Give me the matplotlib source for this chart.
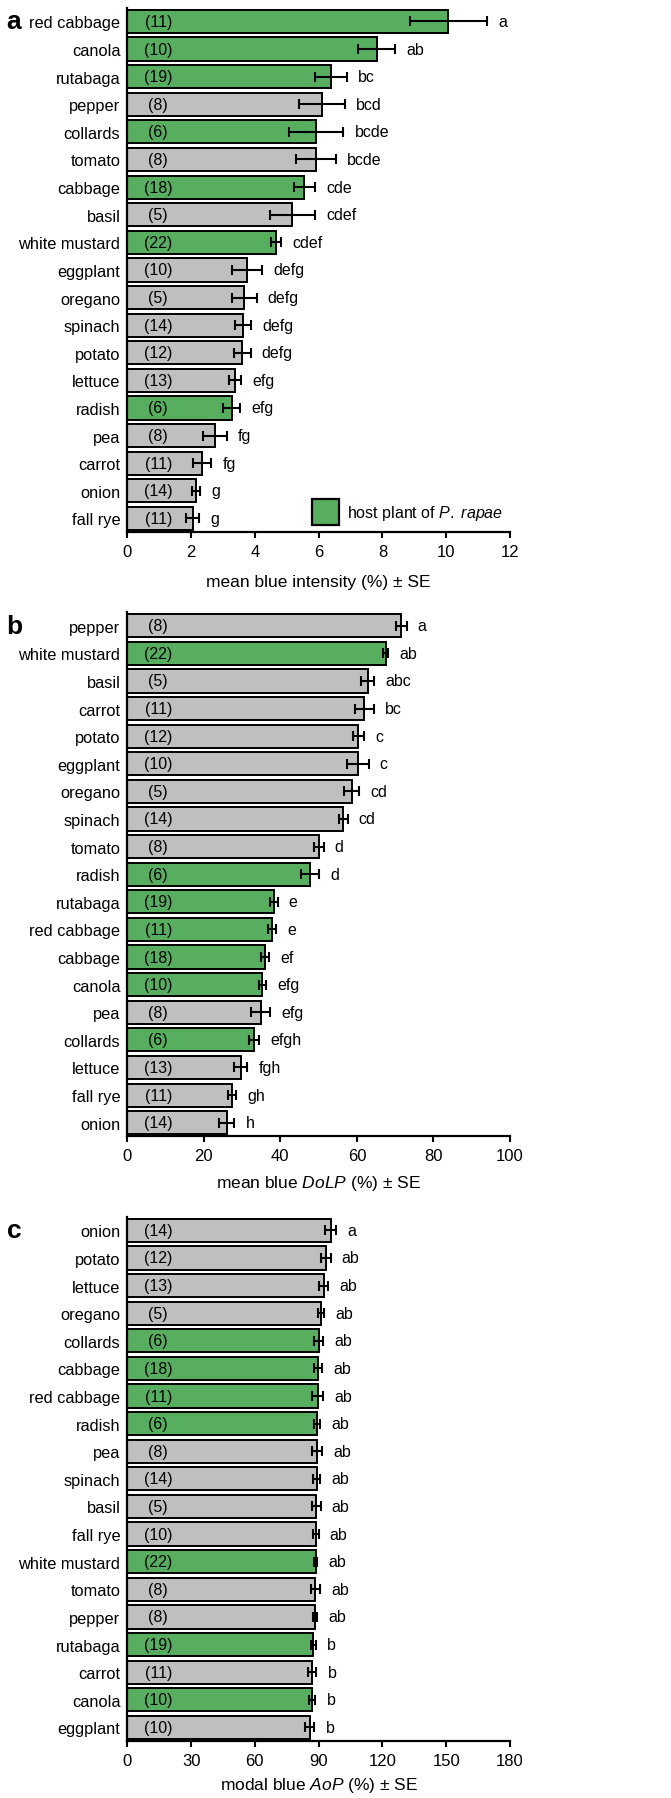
import matplotlib
matplotlib.use("Agg")
import matplotlib.pyplot as plt
from matplotlib.patches import Patch
import matplotlib.transforms as mtransforms

plt.rcParams['font.family'] = ['Liberation Sans', 'DejaVu Sans']
plt.rcParams['mathtext.fontset'] = 'custom'
plt.rcParams['mathtext.rm'] = 'Liberation Sans'
plt.rcParams['mathtext.it'] = 'Liberation Sans:italic'

GREEN = '#58ae5f'
GREY = '#bfbfbf'

hosts = ['red cabbage', 'canola', 'rutabaga', 'collards', 'cabbage', 'white mustard', 'radish']

# panel a - mean blue intensity
plants_a = ['red cabbage', 'canola', 'rutabaga', 'pepper', 'collards', 'tomato', 'cabbage',
            'basil', 'white mustard', 'eggplant', 'oregano', 'spinach', 'potato', 'lettuce',
            'radish', 'pea', 'carrot', 'onion', 'fall rye']
mean_a = [10.07, 7.82, 6.39, 6.11, 5.93, 5.92, 5.55, 5.18, 4.67, 3.76, 3.67, 3.64, 3.61,
          3.38, 3.27, 2.75, 2.35, 2.16, 2.05]
se_a = [1.22, 0.57, 0.49, 0.71, 0.85, 0.63, 0.33, 0.72, 0.15, 0.47, 0.39, 0.25, 0.26,
        0.19, 0.28, 0.37, 0.29, 0.13, 0.21]
n_a = [11, 10, 19, 8, 6, 8, 18, 5, 22, 10, 5, 14, 12, 13, 6, 8, 11, 14, 11]
grp_a = ['a', 'ab', 'bc', 'bcd', 'bcde', 'bcde', 'cde', 'cdef', 'cdef', 'defg', 'defg',
         'defg', 'defg', 'efg', 'efg', 'fg', 'fg', 'g', 'g']

# panel b - mean blue DoLP
plants_b = ['pepper', 'white mustard', 'basil', 'carrot', 'potato', 'eggplant', 'oregano',
            'spinach', 'tomato', 'radish', 'rutabaga', 'red cabbage', 'cabbage', 'canola',
            'pea', 'collards', 'lettuce', 'fall rye', 'onion']
mean_b = [71.6, 67.5, 62.8, 61.9, 60.4, 60.2, 58.6, 56.4, 50.1, 47.7, 38.3, 37.8, 36.0,
          35.3, 34.9, 33.1, 29.7, 27.4, 26.0]
se_b = [1.4, 0.6, 1.7, 2.5, 1.4, 2.9, 2.0, 1.2, 1.2, 2.4, 1.0, 1.1, 1.0, 1.0, 2.5, 1.4,
        1.7, 1.1, 2.0]
n_b = [8, 22, 5, 11, 12, 10, 5, 14, 8, 6, 19, 11, 18, 10, 8, 6, 13, 11, 14]
grp_b = ['a', 'ab', 'abc', 'bc', 'c', 'c', 'cd', 'cd', 'd', 'd', 'e', 'e', 'ef', 'efg',
         'efg', 'efgh', 'fgh', 'gh', 'h']

# panel c - modal blue AoP
plants_c = ['onion', 'potato', 'lettuce', 'oregano', 'collards', 'cabbage', 'red cabbage',
            'radish', 'pea', 'spinach', 'basil', 'fall rye', 'white mustard', 'tomato',
            'pepper', 'rutabaga', 'carrot', 'canola', 'eggplant']
mean_c = [95.6, 93.4, 92.3, 91.3, 90.0, 89.8, 89.5, 89.4, 89.2, 89.1, 88.9, 88.6, 88.6,
          88.4, 88.3, 87.5, 87.0, 86.9, 85.8]
se_c = [2.5, 2.2, 2.0, 1.4, 2.2, 1.9, 2.5, 1.4, 2.5, 1.7, 2.0, 1.4, 0.6, 2.2, 1.1, 1.1,
        2.0, 1.6, 2.2]
n_c = [14, 12, 13, 5, 6, 18, 11, 6, 8, 14, 5, 10, 22, 8, 8, 19, 11, 10, 10]
grp_c = ['a'] + ['ab'] * 14 + ['b'] * 4


def panel(fig, rect, letter, plants, means, ses, ns, groups, xmax, xstep, xlabel, lpad):
	ax = fig.add_axes(rect)
	y = list(range(len(plants)))
	colors = [GREEN if p in hosts else GREY for p in plants]
	ax.barh(y, means, height=0.84, color=colors, edgecolor='black', linewidth=1.4, zorder=2)
	ax.errorbar(means, y, xerr=ses, fmt='none', ecolor='black', elinewidth=1.5,
				capsize=3.5, capthick=1.5, zorder=3)
	trans = mtransforms.blended_transform_factory(ax.transAxes, ax.transData)
	for i in y:
		ax.text(0.081, i, '(%d)' % ns[i], transform=trans, ha='center', va='center',
				fontsize=11.5, zorder=4)
		ax.annotate(groups[i], (means[i] + ses[i], i), xytext=(8, 0),
					textcoords='offset points', ha='left', va='center', fontsize=11.5)
	ax.set_yticks(y)
	ax.set_yticklabels(plants, fontsize=11.8)
	ax.set_ylim(18.48, -0.5)
	ax.set_xlim(0, xmax)
	ax.set_xticks(range(0, xmax + 1, xstep))
	ax.tick_params(axis='y', length=0, pad=5)
	ax.tick_params(axis='x', length=4, width=1.5, labelsize=12, direction='out', pad=5)
	for s in ['top', 'right']:
		ax.spines[s].set_visible(False)
	for s in ['left', 'bottom']:
		ax.spines[s].set_linewidth(1.6)
	ax.set_xlabel(xlabel, fontsize=12.5, labelpad=lpad)
	fig.text(0.010, rect[1] + rect[3] - 0.001, letter, fontsize=19, fontweight='bold',
			 va='top', ha='left')
	return ax


def main():
	fig = plt.figure(figsize=(6.71, 17.99), dpi=100)
	left = 0.1897
	width = 0.5703
	height = 0.2913
	ax_a = panel(fig, [left, 0.7039, width, height], 'a', plants_a, mean_a, se_a, n_a, grp_a,
				 12, 2, 'mean blue intensity (%) ± SE', 11)
	panel(fig, [left, 0.3680, width, height], 'b', plants_b, mean_b, se_b, n_b, grp_b,
		  100, 20, r'mean blue $\it{DoLP}$ (%) ± SE', 7)
	panel(fig, [left, 0.0319, width, height], 'c', plants_c, mean_c, se_c, n_c, grp_c,
		  180, 30, r'modal blue $\it{AoP}$ (%) ± SE', 5)

	handle = Patch(facecolor=GREEN, edgecolor='black', linewidth=1.6)
	ax_a.legend([handle], [r'host plant of $\it{P.\ rapae}$'], loc='lower right',
				bbox_to_anchor=(1.0, 0.0), frameon=False, fontsize=11.5,
				handlelength=1.7, handleheight=2.2, handletextpad=0.5, borderaxespad=0.1,
				borderpad=0.3)

	fig.savefig('out.png', dpi=100)


if __name__ == "__main__":
	main()
